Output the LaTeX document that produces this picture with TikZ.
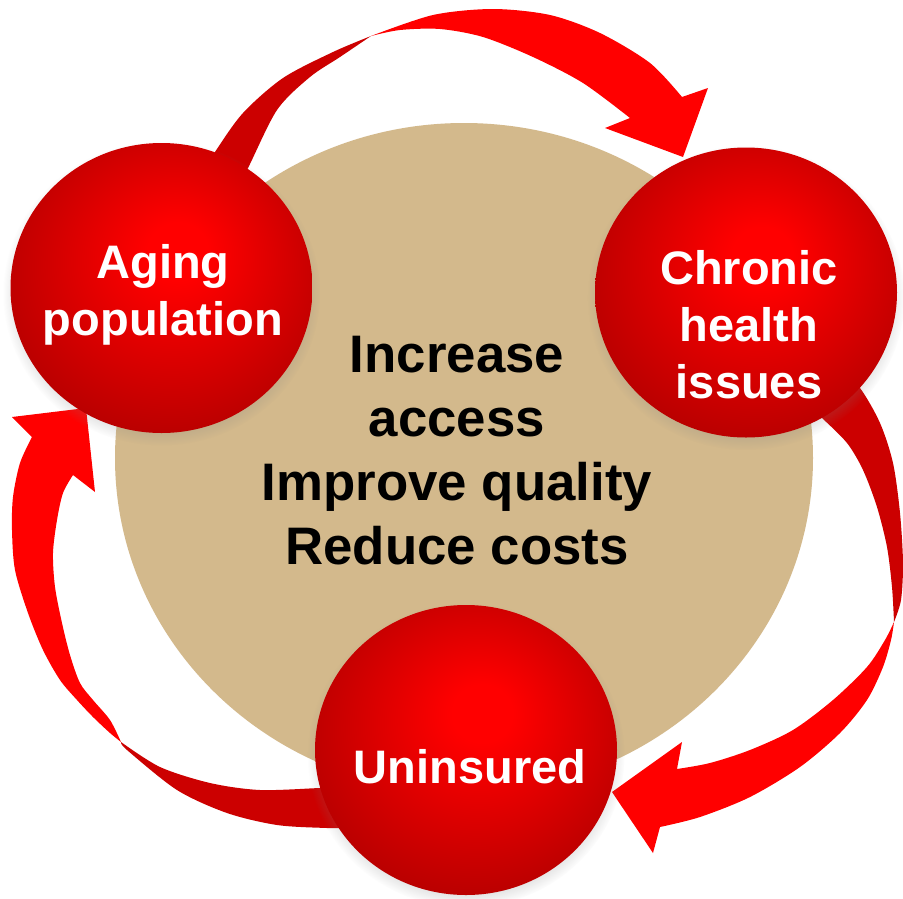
\documentclass[tikz,border=0pt]{standalone}
\usepackage{fontspec}
\setmainfont{Liberation Sans}
\usetikzlibrary{shapes.geometric,shadows}

\definecolor{tanfill}{RGB}{211,185,140}
\definecolor{arrowbright}{RGB}{255,0,0}
\definecolor{arrowdark}{RGB}{204,0,0}
\definecolor{balledge}{RGB}{178,0,0}
\definecolor{ballmid}{RGB}{255,0,0}

% glossy red ball, highlight slightly above the middle
\pgfdeclareradialshading{redball}{\pgfpoint{3bp}{7bp}}{%
  color(0bp)=(ballmid); color(5bp)=(ballmid); color(31bp)=(balledge); color(50bp)=(balledge)}

\tikzset{
  ball/.style={ellipse, minimum width=302pt, minimum height=290pt, inner sep=0pt,
    shade, shading=redball,
    circular drop shadow={shadow xshift=0pt, shadow yshift=-5pt, shadow scale=1.05, opacity=0.35}},
  hub/.style={ellipse, fill=tanfill, minimum width=698pt, minimum height=670pt, inner sep=0pt},
  balltext/.style={font=\fontsize{47}{57}\selectfont\bfseries, text=white, align=center, inner sep=0pt},
  hubtext/.style={font=\fontsize{52.8}{64}\selectfont\bfseries, text=black, align=center, inner sep=0pt},
  bandlight/.style={fill=arrowbright},
  banddark/.style={fill=arrowdark},
}

\begin{document}
\begin{tikzpicture}[x=1pt, y=-1pt]
  \fill[white] (0,0) rectangle (903,898);
  \useasboundingbox (0,0) rectangle (903,898);

  % central goal disc
  \node[hub] (hub) at (464,458) {};

  % top arrow: aging population -> chronic health issues
  \fill[banddark] plot[smooth] coordinates {(200,178) (215,152) (243,113) (283,78) (333,52) (371,36)}
    -- plot[smooth] coordinates {(371,36) (340,57) (310,77) (277,110) (248,168) (235,190)} -- cycle;
  \fill[bandlight] plot[smooth] coordinates {(371,36) (433,15) (493,9) (550,15) (600,33) (650,63) (682,97)}
    -- (708,88) -- (683,157) -- (605,128)
    -- plot[smooth] coordinates {(630,118) (583,83) (533,57) (483,37) (440,29) (400,30) (371,36)} -- cycle;

  % right arrow: chronic health issues -> uninsured
  \fill[banddark] plot[smooth] coordinates {(835,362) (860,388) (880,423) (893,463) (900,513) (903,563) (901,600) (894,622)}
    -- plot[smooth] coordinates {(894,622) (892,587) (887,547) (877,507) (863,470) (847,443) (822,418) (800,398)} -- cycle;
  \fill[bandlight] plot[smooth] coordinates {(894,622) (891,640) (883,667) (867,700) (840,733) (800,767) (750,797) (700,817) (660,827)}
    -- (653,853) -- (612,792) -- (682,742)
    -- plot[smooth] coordinates {(677,769) (710,763) (750,750) (793,730) (833,700) (867,667) (885,640) (894,622)} -- cycle;

  % left arrow: uninsured -> aging population
  \fill[banddark] plot[smooth] coordinates {(121,742) (160,767) (210,783) (260,790) (320,788) (350,787)}
    -- plot[smooth] coordinates {(350,828) (327,828) (277,825) (227,813) (177,790) (127,750) (121,742)} -- cycle;
  \fill[bandlight] plot[smooth] coordinates {(121,742) (110,733) (93,717) (77,700) (60,680) (43,650) (28,613) (15,570) (12,530) (13,497) (20,463) (32,437)}
    -- (12,417) -- (86,408) -- (95,492)
    -- plot[smooth] coordinates {(73,475) (63,493) (57,520) (53,553) (55,587) (62,623) (70,655) (80,683) (93,700) (110,720) (121,742)} -- cycle;

  % the three drivers
  \node[ball] (aging) at (161.5,288) {};
  \node[ball] (chronic) at (746,292.5) {};
  \node[ball] (uninsured) at (466,750) {};

  \node[balltext] (agingtxt) at (163,294.6) {Aging\\population};
  \node[balltext] (chronictxt) at (749,324.6) {Chronic\\health\\issues};
  \node[balltext] (uninsuredtxt) at (470,766.2) {Uninsured};

  \node[hubtext] (goals) at (457,450.1) {Increase\\access\\Improve quality\\Reduce costs};
\end{tikzpicture}
\end{document}
